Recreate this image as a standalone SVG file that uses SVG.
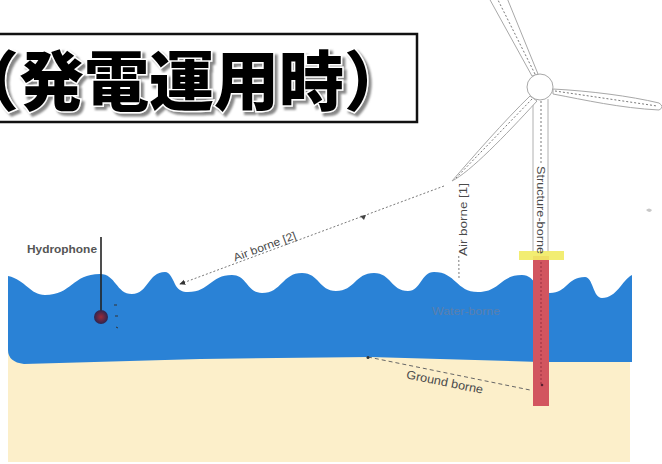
<svg xmlns="http://www.w3.org/2000/svg" width="662" height="464" viewBox="0 0 662 464">
  <style>
    .title { font-family: "Noto Sans CJK JP", "Noto Sans CJK SC", sans-serif; font-size: 65px; font-weight: 900; }
    .label { font-family: "Liberation Sans", Arial, sans-serif; fill: #4a4a4a; }
    .blade { fill: #ffffff; stroke: #a8a8a8; stroke-width: 1; }
    .dots { fill: none; stroke: #7a7a7a; stroke-width: 1; stroke-dasharray: 2 2; }
    .tower { fill: none; stroke: #b0b0b0; stroke-width: 1; }
  </style>
  <defs>
    <marker id="arrow" viewBox="0 0 8 8" refX="7" refY="4" markerWidth="6" markerHeight="6" orient="auto">
      <path d="M0,0.5 L8,4 L0,7.5 Z" fill="#333"/>
    </marker>
    <radialGradient id="phone" cx="0.5" cy="0.5" r="0.5">
      <stop offset="0" stop-color="#9a2a3a"/>
      <stop offset="1" stop-color="#2c2550"/>
    </radialGradient>
    <filter id="shadow" x="-5%" y="-10%" width="115%" height="130%">
      <feDropShadow dx="3" dy="3" stdDeviation="1.3" flood-color="#7a7a7a" flood-opacity="0.9"/>
    </filter>
  </defs>

  <rect width="662" height="464" fill="#ffffff"/>

  <!-- title panel -->
  <g id="title">
    <rect x="-2" y="34" width="419" height="88" fill="#ffffff" stroke="#111" stroke-width="2.5"/>
    <text class="title" x="-46" y="105" fill="#000" stroke="#ffffff" stroke-width="3" paint-order="stroke" filter="url(#shadow)">（発電運用時）</text>
  </g>

  <!-- seabed -->
  <g id="seabed">
    <rect x="8" y="340" width="622" height="122" fill="#fcefca"/>
  </g>

  <!-- sea -->
  <g id="sea">
    <path fill="#2a82d6" d="M8,276
      C26,280 30,295 45,295
      C72,295 72,274 100,274
      C116,274 116,294 132,294
      C148,294 148,272 165,272
      C170,272 173,280 176,286
      C179,290 182,292 188,292
      C210,292 210,275 232,275
      C247,275 247,293 262,293
      C282,293 282,273 302,273
      C319,273 319,291 336,291
      C355,291 355,273 374,273
      C391,273 391,291 408,291
      C421,291 421,272 434,272
      C456,272 456,292 478,292
      C500,292 500,275 522,275
      C536,275 536,293 550,293
      C567,293 567,277 585,277
      C593,277 593,298 602,298
      C617,298 622,280 632,275
      L632,362 L540,362 L370,357 L200,359 L24,364 Q8,362 8,350 Z"/>
    <text class="label" x="432" y="315" font-size="10" textLength="68" lengthAdjust="spacingAndGlyphs" style="fill:#5a80ae">Water-borne</text>
  </g>

  <!-- wind turbine -->
  <g id="turbine">
    <path class="tower" d="M533,99 L533,252 M548,99 L548,252"/>
    <line class="dots" x1="541" y1="101" x2="541" y2="164"/>
    <path class="blade" d="M532,76 L489,-2 L507,-2 L538,74 Z"/>
    <line class="dots" x1="535" y1="74" x2="498" y2="0"/>
    <path class="blade" d="M553,89 C590,91 630,96 659,103 Q665,107 659,110 C620,108 585,100 553,94 Z"/>
    <line class="dots" x1="555" y1="91" x2="657" y2="106"/>
    <path class="blade" d="M530,96 C505,120 472,158 452,181 C470,172 505,136 537,101 Z"/>
    <line class="dots" x1="532" y1="99" x2="456" y2="178"/>
    <circle cx="540" cy="87" r="13" fill="#ffffff" stroke="#a8a8a8" stroke-width="1"/>
  </g>

  <!-- platform and pile -->
  <g id="pile">
    <rect x="533" y="256" width="16" height="150" fill="#d2555f"/>
    <line x1="541" y1="262" x2="541" y2="384" stroke="#9a3040" stroke-width="1" stroke-dasharray="2 2"/>
    <circle cx="542" cy="385" r="1.3" fill="#5a2030"/>
    <rect x="519" y="251" width="45" height="9" fill="#f1ec66" opacity="0.92"/>
    <text class="label" transform="translate(537,166) rotate(90)" font-size="11" textLength="88" lengthAdjust="spacingAndGlyphs">Structure-borne</text>
  </g>

  <!-- hydrophone -->
  <g id="hydrophone">
    <text class="label" x="27" y="253" font-size="10.5" font-weight="bold" textLength="70" lengthAdjust="spacingAndGlyphs" style="fill:#555">Hydrophone</text>
    <line x1="101" y1="237" x2="101" y2="312" stroke="#222" stroke-width="1.6"/>
    <circle cx="101" cy="317" r="7" fill="url(#phone)"/>
    <path d="M114,305 l3,0 M115,316 l3,0 M116,327 l2,1" stroke="#333" stroke-width="1"/>
  </g>

  <!-- transmission paths -->
  <g id="connectors">
    <line class="dots" x1="444" y1="186" x2="180" y2="284" marker-end="url(#arrow)"/>
    <path d="M366,215 l-6,1 l4,4 Z" fill="#444"/>
    <line class="dots" x1="458" y1="184" x2="459" y2="278"/>
    <line x1="368" y1="357" x2="530" y2="390" stroke="#666" stroke-width="1" stroke-dasharray="4 3"/>
    <circle cx="368" cy="357.5" r="1.5" fill="#333"/>
  </g>

  <!-- path labels -->
  <g id="labels">
    <text class="label" transform="translate(266,250) rotate(-20.4)" text-anchor="middle" font-size="11" textLength="66" lengthAdjust="spacingAndGlyphs">Air borne [2]</text>
    <rect x="455" y="182" width="14" height="74" fill="#ffffff"/>
    <text class="label" transform="translate(467,256) rotate(-90)" font-size="11" textLength="73" lengthAdjust="spacingAndGlyphs">Air borne [1]</text>
    <text class="label" transform="translate(444,386) rotate(11.5)" text-anchor="middle" font-size="12" textLength="78" lengthAdjust="spacingAndGlyphs">Ground borne</text>
  </g>

  <!-- small grey mark at the right margin -->
  <path d="M646,210 q3,-3 6,0 q-2,4 -6,0 Z" fill="#c8c8c8"/>
</svg>
